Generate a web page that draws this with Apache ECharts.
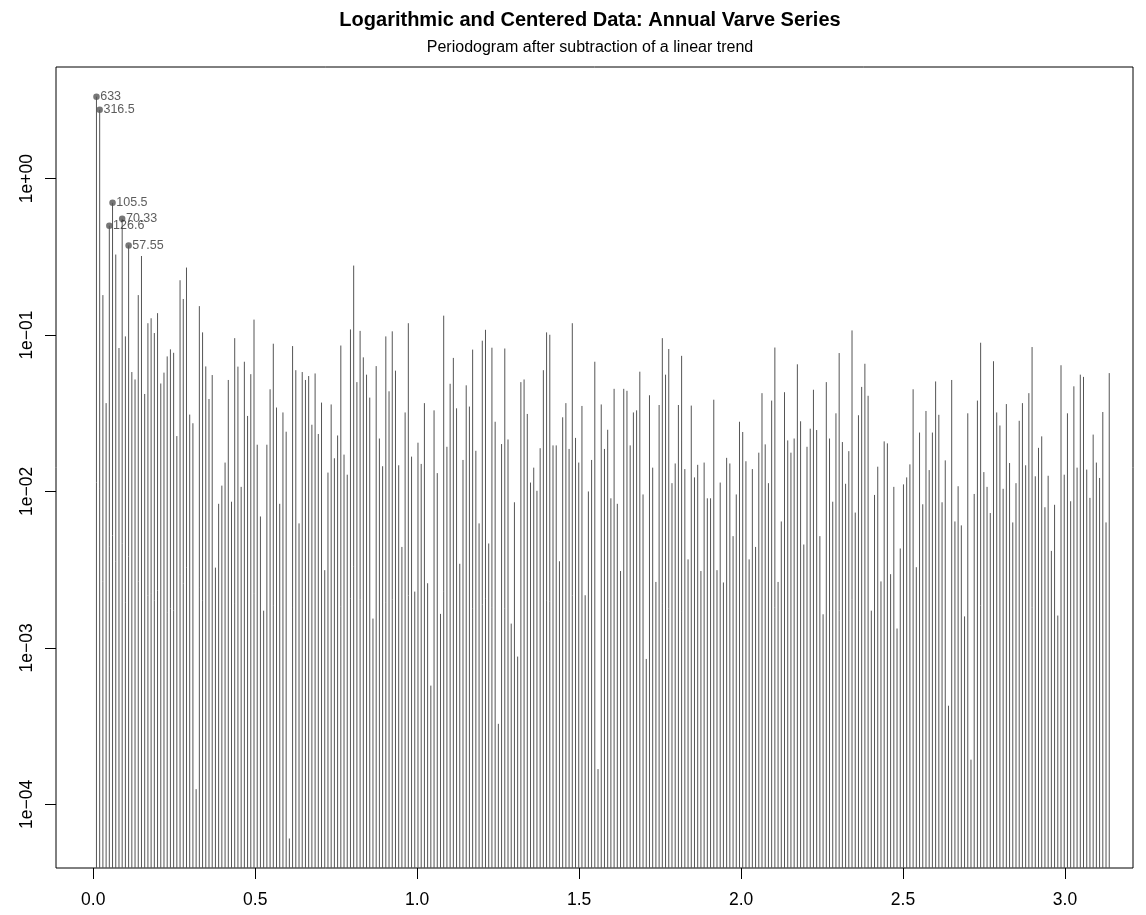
<!DOCTYPE html>
<html>
<head>
<meta charset="utf-8">
<script src="https://cdn.jsdelivr.net/npm/echarts@6/dist/echarts.min.js"></script>
<style>
  html, body { margin: 0; padding: 0; background: #ffffff; }
  #chart { width: 1146px; height: 915px; }
</style>
</head>
<body>
<div id="chart"></div>
<script>
// Periodogram ordinates of the log-centred, detrended varve series (n = 633),
// one value per Fourier frequency 2*pi*k/n, k = 1..316.
const N_OBS = 633;

const specBand1 = [ // k = 1..80
  3.34, 2.75, 0.18, 0.0367, 0.50, 0.70, 0.327, 0.0826, 0.553, 0.098,
  0.374, 0.058, 0.052, 0.18, 0.32, 0.042, 0.119, 0.128, 0.103, 0.138,
  0.049, 0.0575, 0.073, 0.081, 0.077, 0.0226, 0.224, 0.170, 0.27, 0.031,
  0.0273, 1.25e-4, 0.153, 0.104, 0.063, 0.039, 0.0555, 0.00326, 0.00834, 0.0109,
  0.0153, 0.0516, 0.0086, 0.0955, 0.0628, 0.0107, 0.0675, 0.0304, 0.0562, 0.1255,
  0.0199, 0.00692, 0.00173, 0.0199, 0.045, 0.088, 0.0344, 0.00834, 0.032, 0.0241,
  6.05e-5, 0.085, 0.0596, 0.00625, 0.058, 0.0516, 0.0547, 0.0267, 0.0568, 0.0233,
  0.037, 0.00314, 0.0132, 0.036, 0.0163, 0.0228, 0.0857, 0.0172, 0.0128, 0.1086
];
const specBand2 = [ // k = 81..160
  0.278, 0.050, 0.1063, 0.072, 0.0558, 0.0398, 0.00154, 0.0633, 0.0218, 0.0145,
  0.098, 0.0437, 0.1056, 0.0592, 0.0147, 0.00442, 0.032, 0.119, 0.0167, 0.00229,
  0.0205, 0.015, 0.0367, 0.00259, 5.74e-4, 0.033, 0.0131, 0.00165, 0.133, 0.0193,
  0.0488, 0.0714, 0.034, 0.00345, 0.0159, 0.0477, 0.0349, 0.0807, 0.0182, 0.00625,
  0.092, 0.108, 0.00465, 0.083, 0.0279, 3.27e-4, 0.0201, 0.082, 0.0215, 0.00143,
  0.00853, 8.8e-4, 0.050, 0.052, 0.0313, 0.0114, 0.0142, 0.0101, 0.0189, 0.0596,
  0.104, 0.1004, 0.0197, 0.0197, 0.00358, 0.0298, 0.0367, 0.0187, 0.119, 0.022,
  0.0153, 0.0352, 0.00217, 0.0100, 0.0159, 0.0675, 1.68e-4, 0.036, 0.0187, 0.0248
];
const specBand3 = [ // k = 161..240
  0.00904, 0.0453, 0.00834, 0.0031, 0.0453, 0.044, 0.0197, 0.032, 0.033, 0.0583,
  0.00957, 8.5e-4, 0.0412, 0.0142, 0.00264, 0.0357, 0.0955, 0.0558, 0.0814, 0.0113,
  0.0151, 0.0357, 0.0736, 0.0139, 0.00368, 0.0354, 0.0123, 0.0148, 0.0031, 0.0153,
  0.00904, 0.00904, 0.0386, 0.00314, 0.0114, 0.00262, 0.0164, 0.0151, 0.00518, 0.00957,
  0.0279, 0.024, 0.0156, 0.00368, 0.0139, 0.00442, 0.0177, 0.0425, 0.02, 0.0113,
  0.0381, 0.0832, 0.00264, 0.00643, 0.0431, 0.0212, 0.0177, 0.0218, 0.065, 0.0281,
  0.00458, 0.0193, 0.0252, 0.0447, 0.0247, 0.00518, 0.00164, 0.050, 0.0218, 0.0086,
  0.0316, 0.0767, 0.0207, 0.0112, 0.0181, 0.107, 0.00733, 0.0307, 0.0466, 0.0655
];
const specBand4 = [ // k = 241..316
  0.0409, 0.00173, 0.0095, 0.0144, 0.00266, 0.0209, 0.0203, 0.00296, 0.0107, 0.00133,
  0.00432, 0.0111, 0.0123, 0.0149, 0.045, 0.00328, 0.0238, 0.00828, 0.0327, 0.0137,
  0.0238, 0.0505, 0.0309, 0.00853, 0.0158, 4.27e-4, 0.0516, 0.00643, 0.0108, 0.00607,
  0.00159, 0.0316, 1.93e-4, 0.00964, 0.0381, 0.0893, 0.0133, 0.0107, 0.00728, 0.068,
  0.032, 0.0264, 0.0104, 0.0362, 0.0152, 0.00634, 0.0113, 0.0283, 0.0367, 0.0147,
  0.0425, 0.0838, 0.0125, 0.019, 0.0225, 0.00793, 0.0126, 0.00417, 0.00822, 0.00161,
  0.0641, 0.0128, 0.0316, 0.00866, 0.047, 0.0142, 0.0558, 0.054, 0.0138, 0.0091,
  0.0231, 0.0153, 0.0122, 0.0322, 0.00634, 0.0571
];

// Harmonics marked with a dot and their period (in years)
const peakHarmonic = [1, 2, 5, 6, 9, 11];
const peakLabels = ['633', '316.5', '126.6', '105.5', '70.33', '57.55'];

// Axis ticks
const xTicks = [0, 0.5, 1, 1.5, 2, 2.5, 3];
const xTickLabels = ['0.0', '0.5', '1.0', '1.5', '2.0', '2.5', '3.0'];
const yTicks = [1e-4, 1e-3, 1e-2, 1e-1, 1];
const yTickLabels = ['1e\u221204', '1e\u221203', '1e\u221202', '1e\u221201', '1e+00'];

const spectrum = specBand1.concat(specBand2, specBand3, specBand4);
const freqOf = k => 2 * Math.PI * k / N_OBS;
const stemData = spectrum.map((v, i) => [freqOf(i + 1), v]);
const peakData = peakHarmonic.map((k, j) => ({ value: [freqOf(k), spectrum[k - 1]], name: peakLabels[j] }));

// plotting range (y in log10 units)
const X_MIN = -0.115, X_MAX = 3.21;
const Y_MIN = Math.pow(10, -4.407), Y_MAX = Math.pow(10, 0.7134);

const FONT = '"Liberation Sans", Arial, Helvetica, sans-serif';
const chart = echarts.init(document.getElementById('chart'), null, { renderer: 'canvas' });

chart.setOption({
  animation: false,
  backgroundColor: '#ffffff',
  textStyle: { fontFamily: FONT },
  grid: {
    left: 56, top: 67, right: 13, bottom: 47,
    show: true, borderColor: '#000000', borderWidth: 1, backgroundColor: 'transparent'
  },
  xAxis: {
    type: 'value', min: X_MIN, max: X_MAX,
    axisLine: { show: false, onZero: false },
    splitLine: { show: false },
    axisTick: { show: true, length: 11, lineStyle: { color: '#000', width: 1 }, customValues: xTicks },
    axisLabel: {
      customValues: xTicks, margin: 23, fontSize: 17.5, color: '#000', fontFamily: FONT,
      formatter: v => {
        const i = xTicks.findIndex(t => Math.abs(t - v) < 1e-9);
        return i >= 0 ? xTickLabels[i] : '';
      }
    }
  },
  yAxis: {
    type: 'log', logBase: 10, min: Y_MIN, max: Y_MAX,
    axisLine: { show: false, onZero: false },
    splitLine: { show: false },
    axisTick: { show: true, length: 11, lineStyle: { color: '#000', width: 1 }, customValues: yTicks },
    axisLabel: {
      customValues: yTicks, rotate: 90, margin: 20, fontSize: 17.5, color: '#000', fontFamily: FONT,
      formatter: v => {
        const i = yTicks.findIndex(t => Math.abs(Math.log10(t) - Math.log10(v)) < 1e-6);
        return i >= 0 ? yTickLabels[i] : '';
      }
    }
  },
  graphic: [
    {
      type: 'text', x: 590, y: 20, silent: true,
      style: {
        text: 'Logarithmic and Centered Data: Annual Varve Series',
        font: 'bold 20px ' + FONT, fill: '#000', align: 'center', verticalAlign: 'middle'
      }
    },
    {
      type: 'text', x: 590, y: 48, silent: true,
      style: {
        text: 'Periodogram after subtraction of a linear trend',
        font: '16px ' + FONT, fill: '#000', align: 'center', verticalAlign: 'middle'
      }
    }
  ],
  series: [
    {
      // vertical stems from the bottom of the plotting region up to each ordinate
      type: 'custom',
      data: stemData,
      clip: true,
      renderItem: (params, api) => {
        const top = api.coord([api.value(0), api.value(1)]);
        const base = api.coord([api.value(0), Y_MIN]);
        return {
          type: 'line',
          shape: { x1: top[0], y1: top[1], x2: base[0], y2: base[1] },
          style: { stroke: '#555555', lineWidth: 1 }
        };
      }
    },
    {
      type: 'scatter',
      data: peakData,
      symbol: 'circle',
      symbolSize: 6.5,
      itemStyle: { color: '#555555' },
      label: {
        show: true, position: 'right', distance: 0.5,
        formatter: p => p.name,
        fontSize: 12.5, color: '#333333', fontFamily: FONT
      },
      z: 5
    }
  ]
});
</script>
</body>
</html>
